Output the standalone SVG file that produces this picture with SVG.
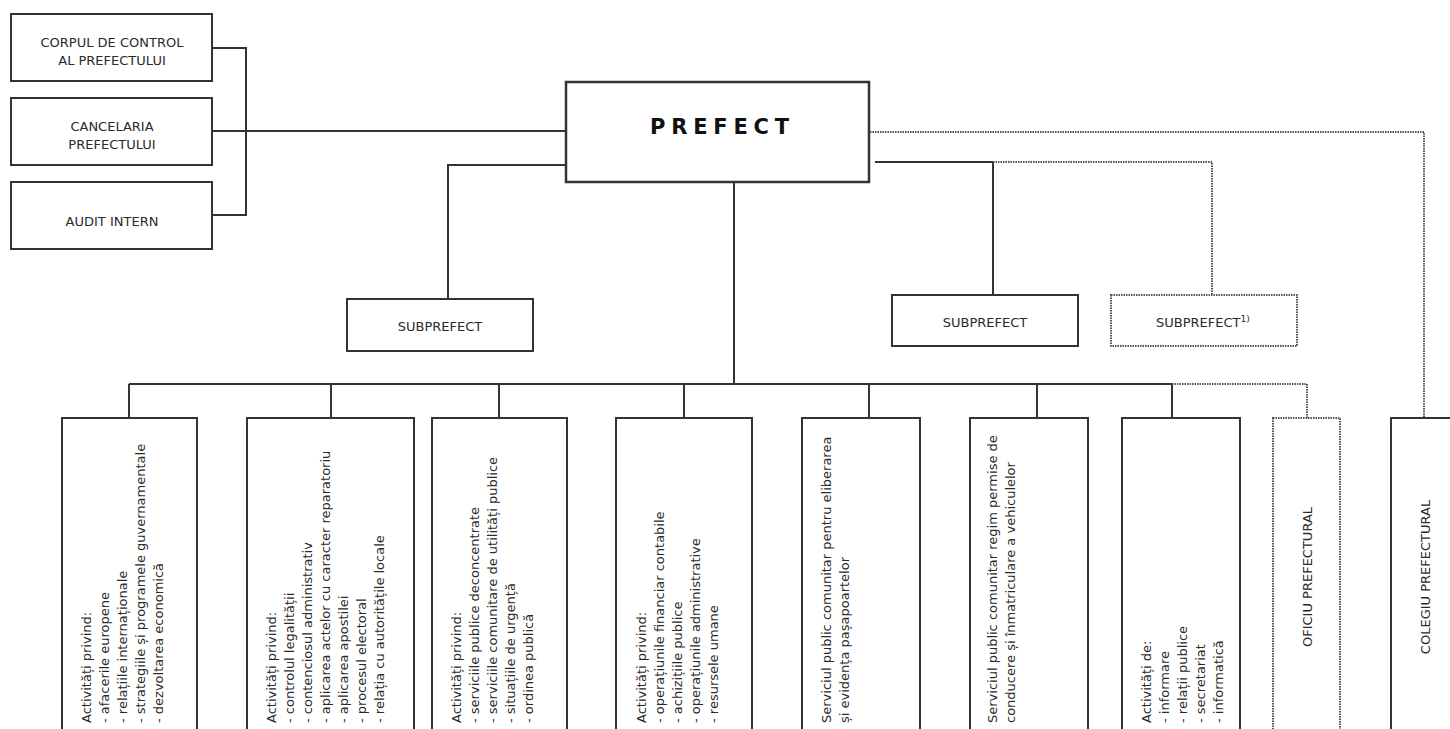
<svg xmlns="http://www.w3.org/2000/svg" width="1450" height="729" viewBox="0 0 1450 729">
<style>
.box{fill:#fff;stroke:#333;stroke-width:2}
.dbox{fill:#fff;stroke:#555;stroke-width:2;stroke-dasharray:1.5 1}
.ln{fill:none;stroke:#333;stroke-width:2}
.dl{fill:none;stroke:#555;stroke-width:2;stroke-dasharray:1.5 1}
text{font-family:"DejaVu Sans","Liberation Sans",sans-serif;font-size:13px;fill:#2a2a2a}
.c{text-anchor:middle}
.title{font-weight:bold;font-size:21px;letter-spacing:5.8px;fill:#111}
</style>
<rect width="1450" height="729" fill="#fff"/>
<g id="connectors">
<path class="ln" d="M212,48 H246 V215 H212 M212,131 H566"/>
<path class="ln" d="M566,165 H448 V299"/>
<path class="ln" d="M875,162 H993 V295"/>
<path class="dl" d="M993,162 H1212 V295"/>
<path class="dl" d="M870,132 H1424 V418"/>
<path class="ln" d="M734,182 V384 M129,384 H1172 M129,384 V418 M331,384 V418 M499,384 V418 M684,384 V418 M869,384 V418 M1037,384 V418 M1172,384 V418"/>
<path class="dl" d="M1172,384 H1307 V418"/>
</g>
<g id="corpul">
<rect class="box" x="11" y="14" width="201" height="67"/>
<text class="c" x="112" y="47">CORPUL DE CONTROL</text>
<text class="c" x="112" y="65">AL PREFECTULUI</text>
</g>
<g id="cancelaria">
<rect class="box" x="11" y="98" width="201" height="67"/>
<text class="c" x="112" y="131">CANCELARIA</text>
<text class="c" x="112" y="149">PREFECTULUI</text>
</g>
<g id="audit">
<rect class="box" x="11" y="182" width="201" height="67"/>
<text class="c" x="112" y="226">AUDIT INTERN</text>
</g>
<g id="prefect">
<rect class="box" x="566" y="82" width="303" height="100" style="stroke-width:2.5"/>
<text class="title" x="650" y="134">PREFECT</text>
</g>
<g id="subprefect1">
<rect class="box" x="347" y="299" width="186" height="52"/>
<text class="c" x="440" y="331">SUBPREFECT</text>
</g>
<g id="subprefect2">
<rect class="box" x="892" y="295" width="186" height="51"/>
<text class="c" x="985" y="327">SUBPREFECT</text>
</g>
<g id="subprefect3">
<rect class="dbox" x="1111" y="295" width="186" height="51"/>
<text x="1156" y="327">SUBPREFECT<tspan dy="-5" font-size="9">1)</tspan></text>
</g>
<g id="box1">
<rect class="box" x="62" y="418" width="135" height="330"/>
<text transform="translate(91,723) rotate(-90)"><tspan x="0" y="0">Activități privind:</tspan><tspan x="0" dy="18">- afacerile europene</tspan><tspan x="0" dy="18">- relațiile internaționale</tspan><tspan x="0" dy="18">- strategiile și programele guvernamentale</tspan><tspan x="0" dy="18">- dezvoltarea economică</tspan></text>
</g>
<g id="box2">
<rect class="box" x="247" y="418" width="167" height="330"/>
<text transform="translate(276,723) rotate(-90)"><tspan x="0" y="0">Activități privind:</tspan><tspan x="0" dy="18">- controlul legalității</tspan><tspan x="0" dy="18">- contenciosul administrativ</tspan><tspan x="0" dy="18">- aplicarea actelor cu caracter reparatoriu</tspan><tspan x="0" dy="18">- aplicarea apostilei</tspan><tspan x="0" dy="18">- procesul electoral</tspan><tspan x="0" dy="18">- relația cu autoritățile locale</tspan></text>
</g>
<g id="box3">
<rect class="box" x="432" y="418" width="135" height="330"/>
<text transform="translate(461,723) rotate(-90)"><tspan x="0" y="0">Activități privind:</tspan><tspan x="0" dy="18">- serviciile publice deconcentrate</tspan><tspan x="0" dy="18">- serviciile comunitare de utilități publice</tspan><tspan x="0" dy="18">- situațiile de urgență</tspan><tspan x="0" dy="18">- ordinea publică</tspan></text>
</g>
<g id="box4">
<rect class="box" x="616" y="418" width="136" height="330"/>
<text transform="translate(646,723) rotate(-90)"><tspan x="0" y="0">Activități privind:</tspan><tspan x="0" dy="18">- operațiunile financiar contabile</tspan><tspan x="0" dy="18">- achizițiile publice</tspan><tspan x="0" dy="18">- operațiunile administrative</tspan><tspan x="0" dy="18">- resursele umane</tspan></text>
</g>
<g id="box5">
<rect class="box" x="802" y="418" width="118" height="330"/>
<text transform="translate(831,723) rotate(-90)"><tspan x="0" y="0">Serviciul public comunitar pentru eliberarea</tspan><tspan x="0" dy="18">și evidența pașapoartelor</tspan></text>
</g>
<g id="box6">
<rect class="box" x="970" y="418" width="118" height="330"/>
<text transform="translate(997,723) rotate(-90)"><tspan x="0" y="0">Serviciul public comunitar regim permise de</tspan><tspan x="0" dy="18">conducere și înmatriculare a vehiculelor</tspan></text>
</g>
<g id="box7">
<rect class="box" x="1122" y="418" width="118" height="330"/>
<text transform="translate(1151,723) rotate(-90)"><tspan x="0" y="0">Activități de:</tspan><tspan x="0" dy="18">- informare</tspan><tspan x="0" dy="18">- relații publice</tspan><tspan x="0" dy="18">- secretariat</tspan><tspan x="0" dy="18">- informatică</tspan></text>
</g>
<g id="oficiu">
<rect class="dbox" x="1273" y="418" width="67" height="330"/>
<text class="c" transform="translate(1312,577) rotate(-90)">OFICIU PREFECTURAL</text>
</g>
<g id="colegiu">
<rect class="box" x="1391" y="418" width="120" height="330"/>
<text class="c" transform="translate(1430,577) rotate(-90)">COLEGIU PREFECTURAL</text>
</g>
</svg>
